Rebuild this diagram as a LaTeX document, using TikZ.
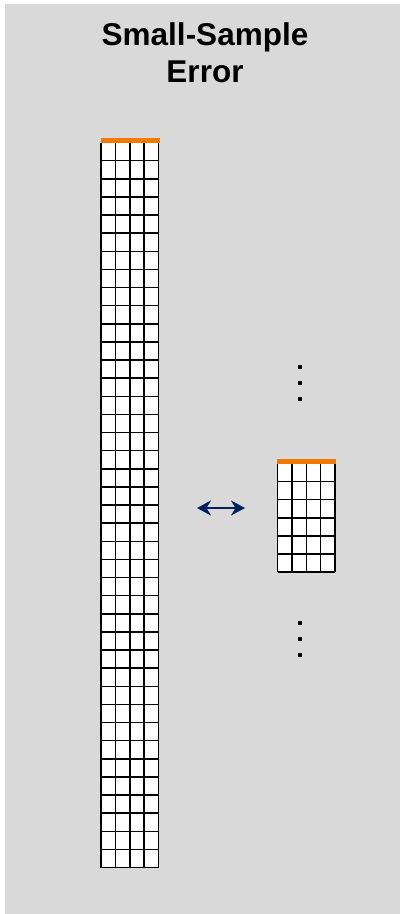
\documentclass[tikz,border=0pt]{standalone}
\usepackage{fontspec}
\setmainfont{Liberation Sans}
\usetikzlibrary{arrows.meta}
\definecolor{panelgray}{HTML}{D9D9D9}
\definecolor{barorange}{HTML}{F37800}
\definecolor{arrownavy}{HTML}{002060}
\begin{document}
\begin{tikzpicture}[x=1pt,y=-1pt,
  panel/.style={fill=panelgray,draw=none},
  gridline/.style={draw=black,line width=1.5pt},
  cellfill/.style={fill=white,draw=none},
  topbar/.style={fill=barorange,draw=none},
  dotsq/.style={fill=black,draw=none,minimum size=4pt,inner sep=0pt},
  title/.style={font=\bfseries\fontsize{31.5}{37}\selectfont,text=black,inner sep=0pt},
  dblarrow/.style={draw=arrownavy,line width=2.5pt,{Stealth[length=14pt,width=15pt,inset=4.5pt]}-{Stealth[length=14pt,width=15pt,inset=4.5pt]}}
]
\useasboundingbox (0,0) rectangle (400,914);
\fill[white] (0,0) rectangle (400,914);
\path[panel] (5,4) rectangle (400,914);

% title
\node[title,anchor=base] (title1) at (205,45.5) {Small-Sample};
\node[title,anchor=base] (title2) at (205,82.5) {Error};

% tall grid
\node[inner sep=0pt,minimum width=57.5pt,minimum height=725pt] (tall) at (129.75,505) {};
\path[cellfill] (101,142.5) rectangle (158.5,867.5);
\foreach \i in {0,...,40} {
  \draw[gridline] (101,142.5+\i*18.125) -- (158.5,142.5+\i*18.125);
}
\foreach \j in {0,...,4} {
  \draw[gridline] (101+\j*14.375,142.5) -- (101+\j*14.375,867.5);
}
\path[topbar] (100.5,137.5) rectangle (159.5,142.5);

% small grid
\node[inner sep=0pt,minimum width=57.5pt,minimum height=108.5pt] (small) at (306.25,517.75) {};
\path[cellfill] (277.5,463.5) rectangle (335,572);
\foreach \i in {0,...,6} {
  \draw[gridline] (277.5,463.5+\i*18.083) -- (335,463.5+\i*18.083);
}
\foreach \j in {0,...,4} {
  \draw[gridline] (277.5+\j*14.375,463.5) -- (277.5+\j*14.375,572);
}
\path[topbar] (277,459) rectangle (335.5,464);

% dots
\node[dotsq] (d1) at (300,366.7) {};
\node[dotsq] (d2) at (300,382.7) {};
\node[dotsq] (d3) at (300,398.7) {};
\node[dotsq] (d4) at (300,623) {};
\node[dotsq] (d5) at (300,639) {};
\node[dotsq] (d6) at (300,655) {};

% arrow
\coordinate (al) at (197,508);
\coordinate (ar) at (245,508);
\draw[dblarrow] (al) -- (ar);
\end{tikzpicture}
\end{document}
